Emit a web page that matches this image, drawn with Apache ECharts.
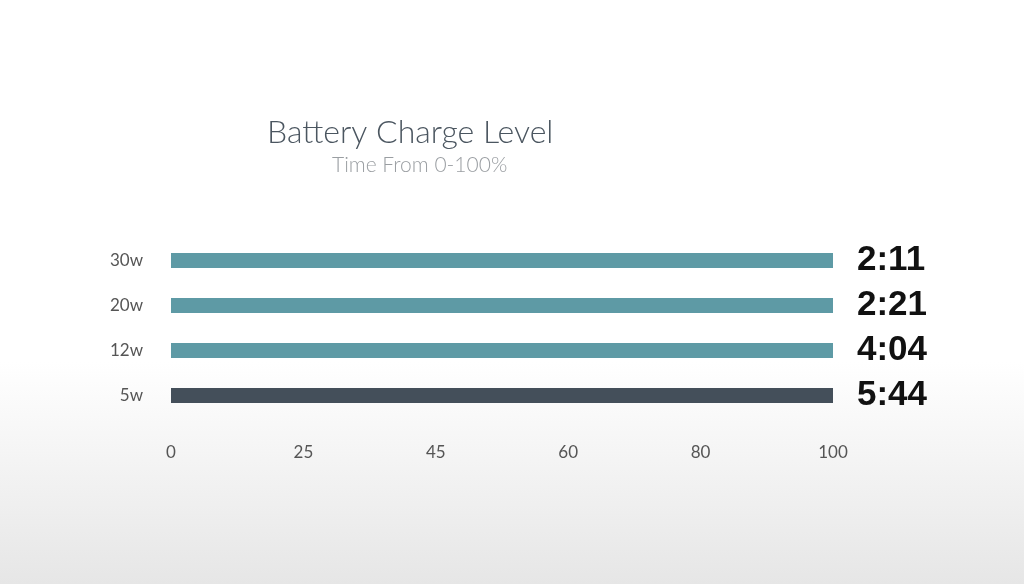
<!DOCTYPE html>
<html><head><meta charset="utf-8">
<script src="https://cdn.jsdelivr.net/npm/echarts@6/dist/echarts.min.js"></script>
<style>html,body{margin:0;padding:0;}#c{width:1024px;height:584px;background:linear-gradient(to bottom,#ffffff 0%,#ffffff 62%,#e6e6e6 100%);}</style>
</head><body><div id="c"></div>
<script>
const categories = ['5w','12w','20w','30w'];
const percentValues = [100,100,100,100];
const times = ['5:44','4:04','2:21','2:11'];
const tickLabels = ['0','25','45','60','80','100'];
const colors = ['#444f5a','#5e9aa5','#5e9aa5','#5e9aa5'];

const chart = echarts.init(document.getElementById('c'));
chart.setOption({
  title: [
    {text:'Battery Charge Level', left:262, top:112, textStyle:{fontFamily:'Lato',fontWeight:300,fontSize:32,color:'#4b5660'}},
    {text:'Time From 0-100%', left:327, top:150, textStyle:{fontFamily:'Lato',fontWeight:300,fontSize:21,color:'#9a9ea2'}}
  ],
  grid:{left:171,right:191,top:238,bottom:166},
  xAxis:{type:'value',min:0,max:tickLabels.length-1,interval:1,
    axisLine:{show:false},axisTick:{show:false},splitLine:{show:false},
    axisLabel:{margin:26,fontFamily:'Lato',fontSize:17,color:'#555',formatter:v=>tickLabels[v]}},
  yAxis:{type:'category',data:categories,axisLine:{show:false},axisTick:{show:false},
    axisLabel:{margin:28,fontFamily:'Lato',fontSize:17,color:'#555'}},
  series:[{type:'bar',barWidth:15,
    data:percentValues.map((v,i)=>({value:tickLabels.indexOf(String(v)),itemStyle:{color:colors[i]},
      label:{show:true,position:'right',distance:24,formatter:times[i],fontFamily:'Liberation Sans',fontWeight:'bold',fontSize:35,color:'#111'}}))
  }]
});
</script></body></html>
